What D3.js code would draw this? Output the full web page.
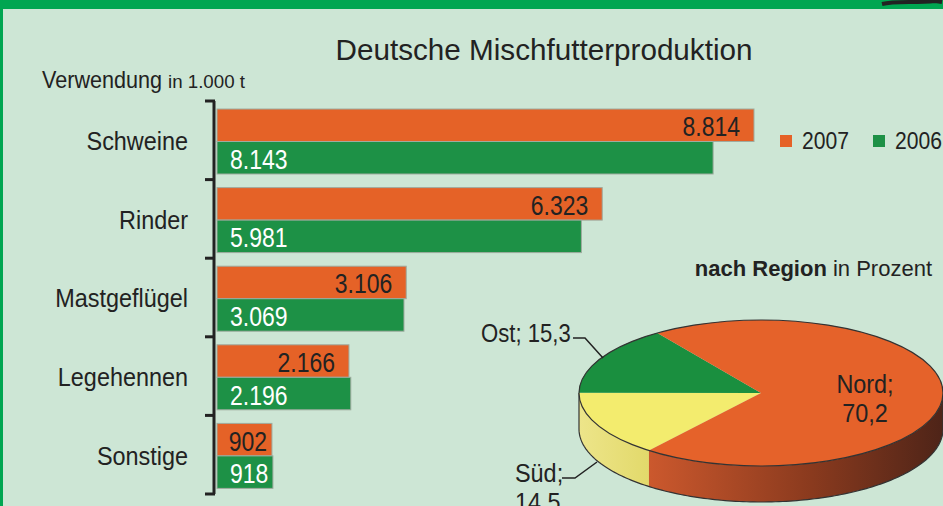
<!DOCTYPE html>
<html>
<head>
<meta charset="utf-8">
<script src="https://cdn.jsdelivr.net/npm/d3@7"></script>
<style>
  html, body { margin: 0; padding: 0; background: #cde6d5; }
  svg { display: block; }
  text { font-family: "Liberation Sans Narrow", "Arial Narrow", "Liberation Sans", Arial, sans-serif; fill: #222; }
</style>
</head>
<body>
<div id="container"></div>
<script>
let categories = ['Schweine', 'Rinder', 'Mastgeflügel', 'Legehennen', 'Sonstige'],
  years = ['2007', '2006'],
  values2007 = [8814, 6323, 3106, 2166, 902],
  values2006 = [8143, 5981, 3069, 2196, 918],
  regions = ['Süd', 'Ost', 'Nord'],
  regionShares = [14.5, 15.3, 70.2],
  width = 943,
  height = 506;

let colors = { '2007': '#e56227', '2006': '#1d9146' };

// deutsches Zahlenformat
let de = d3.formatLocale({ decimal: ',', thousands: '.', grouping: [3], currency: ['', ' €'] });
let fmtInt = de.format(',d'),
  fmtDec = de.format(',.1f');

// Schrift schmaler machen (Original ist eine Condensed-Schrift)
function squeeze(sel, f) {
  sel.each(function () {
    let w = this.getComputedTextLength()
    d3.select(this).attr('textLength', w * f).attr('lengthAdjust', 'spacingAndGlyphs')
  })
}

let svg = d3.select('#container')
  .append('svg')
  .attr('width', width)
  .attr('height', height)

// Hintergrund und Rahmen
svg.append('rect').attr('width', width).attr('height', height).style('fill', '#cde6d5')
svg.append('rect').attr('width', width).attr('height', 9).style('fill', '#00a651')
svg.append('rect').attr('width', 3).attr('height', height).style('fill', '#00a651')
svg.append('path')
  .attr('d', 'M882,4 C895,1 915,3 935,1 L942,2')
  .style('fill', 'none').style('stroke', '#222').style('stroke-width', 4)

svg.append('text')
  .text('Deutsche Mischfutterproduktion')
  .attr('x', 544).attr('y', 60)
  .style('text-anchor', 'middle')
  .style('font-size', '30px')
  .attr('textLength', 417).attr('lengthAdjust', 'spacingAndGlyphs')

svg.append('text').text('Verwendung')
  .attr('x', 42).attr('y', 88)
  .style('font-size', '24px')
  .attr('textLength', 120).attr('lengthAdjust', 'spacingAndGlyphs')
svg.append('text').text('in 1.000 t')
  .attr('x', 168).attr('y', 88)
  .style('font-size', '19px')
  .attr('textLength', 77).attr('lengthAdjust', 'spacingAndGlyphs')

// Skalen
let scale_x = d3.scaleLinear()
  .domain([0, d3.max(values2007)])
  .range([217, 754])

let scale_y = d3.scaleBand()
  .domain(categories)
  .range([101, 494])

let scale_year = d3.scaleBand()
  .domain(years)
  .range([8, 73])

let rows = categories.map(function (c, i) {
  return { name: c, vals: [{ year: '2007', v: values2007[i] }, { year: '2006', v: values2006[i] }] }
})

let row = svg.selectAll('g.row')
  .data(rows).enter().append('g')
  .attr('class', 'row')
  .attr('transform', function (d) { return 'translate(0,' + scale_y(d.name) + ')' })

let catLabels = row.append('text')
  .text(function (d) { return d.name })
  .attr('x', 188)
  .attr('y', scale_y.bandwidth() / 2 + 10)
  .style('text-anchor', 'end')
  .style('font-size', '26px')
squeeze(catLabels, 0.9)

let bar = row.selectAll('g.bar')
  .data(function (d) { return d.vals }).enter().append('g')
  .attr('class', 'bar')
  .attr('transform', function (d) { return 'translate(0,' + scale_year(d.year) + ')' })

bar.append('rect')
  .attr('x', scale_x(0))
  .attr('width', function (d) { return scale_x(d.v) - scale_x(0) })
  .attr('height', scale_year.bandwidth())
  .style('fill', function (d) { return colors[d.year] })
  .style('stroke', '#9fab9f')
  .style('stroke-width', 1)

let valLabels = bar.append('text')
  .text(function (d) { return fmtInt(d.v) })
  .attr('x', function (d) {
    if (d.year === '2007') return Math.max(scale_x(d.v) - 14, scale_x(0) + 50)
    return scale_x(0) + 13
  })
  .attr('y', scale_year.bandwidth() / 2 + 11)
  .style('text-anchor', function (d) { return d.year === '2007' ? 'end' : 'start' })
  .style('font-size', '28px')
  .style('fill', function (d) { return d.year === '2007' ? '#222' : '#fff' })
squeeze(valLabels, 0.82)

// Klammer-Achse
let bounds = categories.map(function (c) { return scale_y(c) }).concat([scale_y.range()[1]])
svg.append('line')
  .attr('x1', 214).attr('x2', 214)
  .attr('y1', bounds[0]).attr('y2', bounds[bounds.length - 1])
  .style('stroke', '#222').style('stroke-width', 3)
svg.selectAll('line.tick')
  .data(bounds).enter().append('line')
  .attr('class', 'tick')
  .attr('x1', 205).attr('x2', 215)
  .attr('y1', function (d) { return d }).attr('y2', function (d) { return d })
  .style('stroke', '#222').style('stroke-width', 3)

// Legende
let legend = svg.selectAll('g.legend')
  .data(years).enter().append('g')
  .attr('class', 'legend')
  .attr('transform', function (d, i) { return 'translate(' + (780 + i * 93) + ',135)' })
legend.append('rect').attr('width', 12).attr('height', 12)
  .style('fill', function (d) { return colors[d] })
let legLabels = legend.append('text').text(function (d) { return d })
  .attr('x', 22).attr('y', 14)
  .style('font-size', '24px')
squeeze(legLabels, 0.88)

// Tortendiagramm (3D)
let pieTitle = svg.append('text').attr('x', 932).attr('y', 276).style('text-anchor', 'end').style('font-size', '22px')
pieTitle.append('tspan').text('nach Region').style('font-weight', 'bold')
pieTitle.append('tspan').text(' in Prozent')

let cx = 761, cy = 393, rx = 182, ry = 73, depth = 36
let pieColors = { 'Nord': '#e5622a', 'Ost': '#1a8f3f', 'Süd': '#f3ec6e' }

let pie = d3.pie().sort(null)
  .startAngle(218 * Math.PI / 180)
  .endAngle((218 + 360) * Math.PI / 180)

let slices = pie(regionShares).map(function (d, i) {
  return { name: regions[i], v: regionShares[i], a0: d.startAngle - Math.PI / 2, a1: d.endAngle - Math.PI / 2 }
})

function pt(t, dy) { return [cx + rx * Math.cos(t), cy + ry * Math.sin(t) + (dy || 0)] }

function arcPts(a0, a1, dy) {
  let n = Math.max(2, Math.ceil((a1 - a0) / 0.02)), p = []
  for (let k = 0; k <= n; k++) p.push(pt(a0 + (a1 - a0) * k / n, dy))
  return p
}

let defs = svg.append('defs')
let grad = defs.append('linearGradient').attr('id', 'sideNord')
  .attr('gradientUnits', 'userSpaceOnUse')
  .attr('x1', 650).attr('x2', 943).attr('y1', 0).attr('y2', 0)
grad.append('stop').attr('offset', 0).attr('stop-color', '#cb582d')
grad.append('stop').attr('offset', 0.55).attr('stop-color', '#8a3a1e')
grad.append('stop').attr('offset', 1).attr('stop-color', '#4e2418')
let gradS = defs.append('linearGradient').attr('id', 'sideSued')
  .attr('gradientUnits', 'userSpaceOnUse')
  .attr('x1', 579).attr('x2', 650).attr('y1', 0).attr('y2', 0)
gradS.append('stop').attr('offset', 0).attr('stop-color', '#ede58a')
gradS.append('stop').attr('offset', 1).attr('stop-color', '#e2d96a')

let line = d3.line()

// Seitenwände: nur sichtbarer Teil (vorne, t zwischen 0 und PI, modulo 2PI)
slices.forEach(function (s) {
  let tw = 2 * Math.PI
  for (let off = -2; off <= 2; off++) {
    let lo = Math.max(s.a0, off * tw), hi = Math.min(s.a1, off * tw + Math.PI)
    if (hi <= lo) continue
    let top = arcPts(lo, hi, 0), bottom = arcPts(lo, hi, depth).reverse()
    svg.append('path')
      .attr('d', line(top.concat(bottom)) + 'Z')
      .style('fill', s.name === 'Nord' ? 'url(#sideNord)' : s.name === 'Süd' ? 'url(#sideSued)' : '#14702f')
  }
})

svg.append('path')
  .attr('d', line(arcPts(0, Math.PI, depth)))
  .style('fill', 'none').style('stroke', '#333').style('stroke-width', 1.2)
svg.selectAll('line.edge')
  .data([0, Math.PI]).enter().append('line')
  .attr('x1', function (d) { return pt(d)[0] }).attr('x2', function (d) { return pt(d)[0] })
  .attr('y1', cy).attr('y2', cy + depth)
  .style('stroke', '#333').style('stroke-width', 1.2)

svg.selectAll('path.slice')
  .data(slices).enter().append('path')
  .attr('class', 'slice')
  .attr('d', function (s) { return line([[cx, cy]].concat(arcPts(s.a0, s.a1, 0))) + 'Z' })
  .style('fill', function (s) { return pieColors[s.name] })

svg.append('ellipse')
  .attr('cx', cx).attr('cy', cy).attr('rx', rx).attr('ry', ry)
  .style('fill', 'none').style('stroke', '#333').style('stroke-width', 1.2)

// Beschriftung Torte
let pieLabels = [
  { name: 'Nord', lines: ['Nord;', fmtDec(regionShares[2])], x: 865, y: 393, anchor: 'middle', f: 0.9 },
  { name: 'Ost', lines: ['Ost; ' + fmtDec(regionShares[1])], x: 481, y: 342, anchor: 'start', f: 0.85 },
  { name: 'Süd', lines: ['Süd;', fmtDec(regionShares[0])], x: 515, y: 482, anchor: 'start', f: 0.9 }
]
pieLabels.forEach(function (l) {
  let t = svg.append('text').attr('x', l.x).attr('y', l.y)
    .style('text-anchor', l.anchor).style('font-size', '26px')
  l.lines.forEach(function (s, i) {
    t.append('tspan').text(s).attr('x', l.x).attr('dy', i === 0 ? 0 : 29)
  })
  squeeze(t.selectAll('tspan'), l.f)
})

let leaders = [
  [[573, 338], [585, 338], [603, 358]],
  [[562, 478], [575, 478], [597, 462]]
]
svg.selectAll('path.leader')
  .data(leaders).enter().append('path')
  .attr('d', function (d) { return line(d) })
  .style('fill', 'none').style('stroke', '#222').style('stroke-width', 1.5)
</script>
</body>
</html>
